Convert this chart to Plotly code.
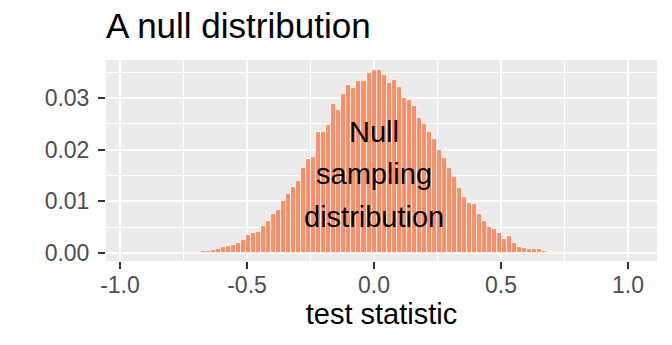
import numpy as np
import plotly.graph_objects as go

# Histogram of the simulated null statistic: 100 equal-width bins,
# heights are the proportion of simulations falling in each bin.
bin_width = 0.0197
first_bin_index = -48  # bins are indexed so that bin 0 is centred on 0

proportions = [
    0.00001, 0.00002, 0.00001, 0.00003, 0.00002, 0.00004, 0.00003, 0.00005,
    0.00006, 0.00008, 0.00010, 0.00012, 0.00015, 0.00020, 0.00030, 0.00045,
    0.00060, 0.00070, 0.00120, 0.00130, 0.00150, 0.00190, 0.00250, 0.00340,
    0.00390, 0.00410, 0.00520, 0.00620, 0.00750, 0.00830, 0.01010, 0.01150,
    0.01270, 0.01400, 0.01650, 0.01810, 0.01860, 0.02340, 0.02340, 0.02480,
    0.02890, 0.02760, 0.03080, 0.03260, 0.03200, 0.03320, 0.03320, 0.03480,
    0.03540, 0.03540, 0.03440, 0.03290, 0.03340, 0.03220, 0.03000, 0.02960,
    0.02840, 0.02610, 0.02500, 0.02340, 0.02200, 0.02000, 0.01830, 0.01650,
    0.01470, 0.01250, 0.01080, 0.00970, 0.00940, 0.00750, 0.00610, 0.00510,
    0.00460, 0.00380, 0.00270, 0.00320, 0.00200, 0.00120, 0.00100, 0.00080,
    0.00080, 0.00070, 0.00030, 0.00020, 0.00020, 0.00015, 0.00010, 0.00008,
    0.00010, 0.00006, 0.00005, 0.00004, 0.00003, 0.00003, 0.00002, 0.00002,
    0.00001, 0.00001, 0.00001, 0.00001,
]

bin_centres = (np.arange(len(proportions)) + first_bin_index) * bin_width

x_ticks = [-1.0, -0.5, 0.0, 0.5, 1.0]
x_tick_labels = ["-1.0", "-0.5", "0.0", "0.5", "1.0"]
x_minor = [-0.75, -0.25, 0.25, 0.75]
y_ticks = [0.0, 0.01, 0.02, 0.03]
y_tick_labels = ["0.00", "0.01", "0.02", "0.03"]
y_minor = [0.005, 0.015, 0.025, 0.035]

label_lines = ["Null", "sampling", "distribution"]
label_y = [0.0234, 0.0152, 0.0070]

FONT = "Liberation Sans"
fill = "#FC8D66"

fig = go.Figure(
    go.Bar(
        x=bin_centres,
        y=proportions,
        width=bin_width,
        marker=dict(color=fill, line=dict(color="white", width=0.8)),
        hoverinfo="skip",
    )
)

for text, yv in zip(label_lines, label_y):
    fig.add_annotation(
        x=0.0, y=yv, xref="x", yref="y", text=text, showarrow=False,
        xanchor="center", yanchor="middle",
        font=dict(family=FONT, size=29, color="black"),
    )

axis_common = dict(
    showgrid=True, gridcolor="white", gridwidth=2.2,
    zeroline=False, showline=False,
    ticks="outside", ticklen=7, tickwidth=2, tickcolor="#333333",
    tickfont=dict(family=FONT, size=23, color="#4D4D4D"),
)

fig.update_layout(
    width=672, height=345,
    margin=dict(l=106, r=15, t=60, b=84),
    paper_bgcolor="white", plot_bgcolor="#EBEBEB",
    showlegend=False, bargap=0,
    title=dict(
        text="A null distribution",
        font=dict(family=FONT, size=35, color="black"),
        x=0, xref="paper", xanchor="left",
        y=1 - 26 / 345, yref="container", yanchor="middle",
    ),
    xaxis=dict(
        range=[-1.055, 1.114],
        tickmode="array", tickvals=x_ticks, ticktext=x_tick_labels,
        minor=dict(tickmode="array", tickvals=x_minor, showgrid=True,
                   gridcolor="white", gridwidth=1.1, ticks=""),
        ticklabelstandoff=-4,
        title=dict(text="test statistic",
                   font=dict(family=FONT, size=29, color="black"),
                   standoff=4),
        **axis_common,
    ),
    yaxis=dict(
        range=[-0.00155, 0.03735],
        tickmode="array", tickvals=y_ticks, ticktext=y_tick_labels,
        minor=dict(tickmode="array", tickvals=y_minor, showgrid=True,
                   gridcolor="white", gridwidth=1.1, ticks=""),
        ticklabelstandoff=4,
        **axis_common,
    ),
)

fig.write_html("out.html")
